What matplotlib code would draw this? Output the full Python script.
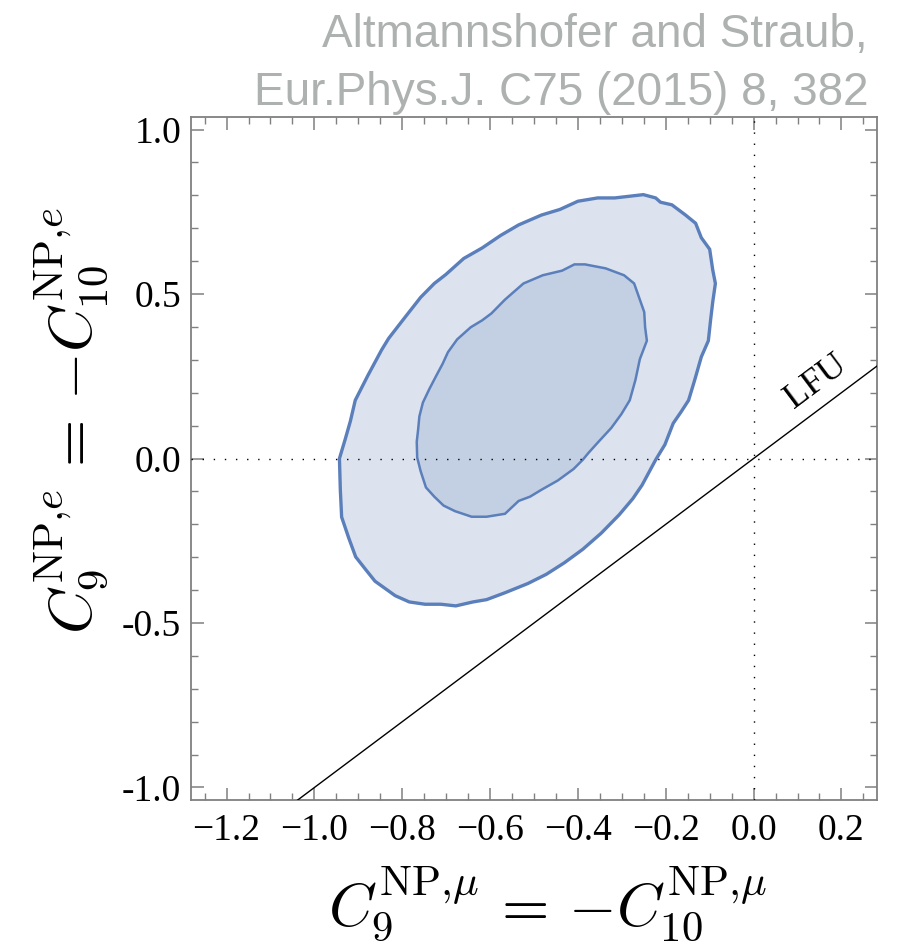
import matplotlib
matplotlib.use("Agg")
import matplotlib.pyplot as plt
from matplotlib.ticker import MultipleLocator, FuncFormatter

plt.rcParams["mathtext.fontset"] = "cm"
plt.rcParams["font.family"] = ["Liberation Serif", "DejaVu Serif"]

# 95% CL region (outer contour), C9_mu = -C10_mu vs C9_e = -C10_e
outer_x = [-0.251, -0.316, -0.355, -0.400, -0.441, -0.483, -0.535, -0.576, -0.618, -0.660,
           -0.701, -0.727, -0.758, -0.795, -0.831, -0.847, -0.878, -0.907, -0.918, -0.930,
           -0.943, -0.941, -0.938, -0.922, -0.906, -0.883, -0.862, -0.816, -0.784, -0.748,
           -0.712, -0.678, -0.639, -0.608, -0.566, -0.514, -0.472, -0.431, -0.389, -0.347,
           -0.306, -0.275, -0.254, -0.223, -0.202, -0.183, -0.165, -0.148, -0.134, -0.119,
           -0.103, -0.098, -0.093, -0.087, -0.093, -0.100, -0.119, -0.132, -0.155, -0.186,
           -0.212, -0.223]
outer_y = [0.802, 0.792, 0.792, 0.782, 0.757, 0.740, 0.710, 0.678, 0.640, 0.608,
           0.559, 0.532, 0.490, 0.427, 0.365, 0.330, 0.253, 0.177, 0.114, 0.058,
           0.000, -0.095, -0.178, -0.241, -0.299, -0.338, -0.373, -0.417, -0.436, -0.443,
           -0.443, -0.448, -0.436, -0.429, -0.408, -0.380, -0.352, -0.317, -0.276, -0.227,
           -0.171, -0.122, -0.081, -0.004, 0.042, 0.107, 0.142, 0.177, 0.239, 0.309,
           0.358, 0.420, 0.476, 0.532, 0.573, 0.636, 0.671, 0.715, 0.740, 0.771,
           0.779, 0.792]

# 68% CL region (inner contour)
inner_x = [-0.408, -0.384, -0.337, -0.295, -0.272, -0.259, -0.249, -0.247, -0.243, -0.259,
           -0.269, -0.282, -0.301, -0.324, -0.353, -0.376, -0.389, -0.410, -0.446, -0.483,
           -0.509, -0.535, -0.566, -0.608, -0.642, -0.680, -0.706, -0.727, -0.746, -0.758,
           -0.766, -0.767, -0.764, -0.761, -0.753, -0.738, -0.722, -0.708, -0.696, -0.675,
           -0.644, -0.618, -0.597, -0.566, -0.524, -0.480, -0.436]
inner_y = [0.590, 0.590, 0.578, 0.557, 0.532, 0.483, 0.445, 0.399, 0.358, 0.302,
           0.239, 0.177, 0.135, 0.093, 0.051, 0.017, -0.004, -0.032, -0.067, -0.095,
           -0.116, -0.129, -0.168, -0.177, -0.177, -0.160, -0.143, -0.116, -0.088, -0.039,
           0.003, 0.051, 0.086, 0.128, 0.170, 0.212, 0.253, 0.288, 0.323, 0.362,
           0.399, 0.420, 0.441, 0.483, 0.532, 0.557, 0.571]

# lepton flavour universality line C9_e = C9_mu
lfu_x = [-1.3, 0.3]
lfu_y = [-1.3, 0.3]

xlim = (-1.281, 0.281)
ylim = (-1.038, 1.038)

fig = plt.figure(figsize=(8.98, 9.48), dpi=100)
ax = fig.add_axes([191 / 898, 1 - 800 / 948, 686 / 898, 683 / 948])

edge = "#5b7fbb"
ax.fill(outer_x, outer_y, facecolor="#dce3ef", edgecolor=edge, lw=2.4, zorder=2)
ax.fill(inner_x, inner_y, facecolor="#c3d0e3", edgecolor=edge, lw=1.8, zorder=3)

ax.axhline(0, color="black", lw=1.0, ls=(0, (1, 7)), zorder=4)
ax.axvline(0, color="black", lw=1.0, ls=(0, (1, 7)), zorder=4)
ax.plot(lfu_x, lfu_y, color="black", lw=1.0, zorder=5)
ax.text(0.143, 0.234, "LFU", rotation=36.8, rotation_mode="anchor",
        ha="center", va="center", fontsize=26, color="black", zorder=6)

ax.set_xlim(*xlim)
ax.set_ylim(*ylim)

ax.xaxis.set_major_locator(MultipleLocator(0.2))
ax.xaxis.set_minor_locator(MultipleLocator(0.05))
ax.yaxis.set_major_locator(MultipleLocator(0.5))
ax.yaxis.set_minor_locator(MultipleLocator(0.1))
ax.xaxis.set_major_formatter(FuncFormatter(lambda v, p: f"{v:.1f}".replace("-", "\u2212")))
ax.yaxis.set_major_formatter(FuncFormatter(lambda v, p: f"{v:.1f}"))

spine_col = "#808080"
for s in ax.spines.values():
    s.set_color(spine_col)
    s.set_linewidth(1.3)
ax.tick_params(which="both", direction="in", top=True, right=True, colors=spine_col,
               labelcolor="black", labelsize=27)
ax.tick_params(which="major", length=9, width=1.1)
ax.tick_params(which="minor", length=5, width=1.0)
ax.tick_params(axis="x", which="major", pad=10)
ax.tick_params(axis="y", which="major", pad=7)

ax.set_xlabel(r"$C_9^{\mathrm{NP}{,}\mu}\,=\,{-}C_{10}^{\mathrm{NP}{,}\mu}$", fontsize=44)
ax.xaxis.set_label_coords(0.52, -0.094)
ax.set_ylabel(r"$C_9^{\mathrm{NP}{,}e}\,=\,{-}C_{10}^{\mathrm{NP}{,}e}$", fontsize=44)
ax.yaxis.set_label_coords(-0.118, 0.555)

fig.text(868 / 898, 1 - 47 / 948, "Altmannshofer and Straub,", ha="right", va="baseline",
         fontsize=33, color="#adb1af", family="Liberation Sans")
fig.text(868 / 898, 1 - 105 / 948, "Eur.Phys.J. C75 (2015) 8, 382", ha="right", va="baseline",
         fontsize=33, color="#adb1af", family="Liberation Sans")

fig.savefig("out.png", dpi=100)
